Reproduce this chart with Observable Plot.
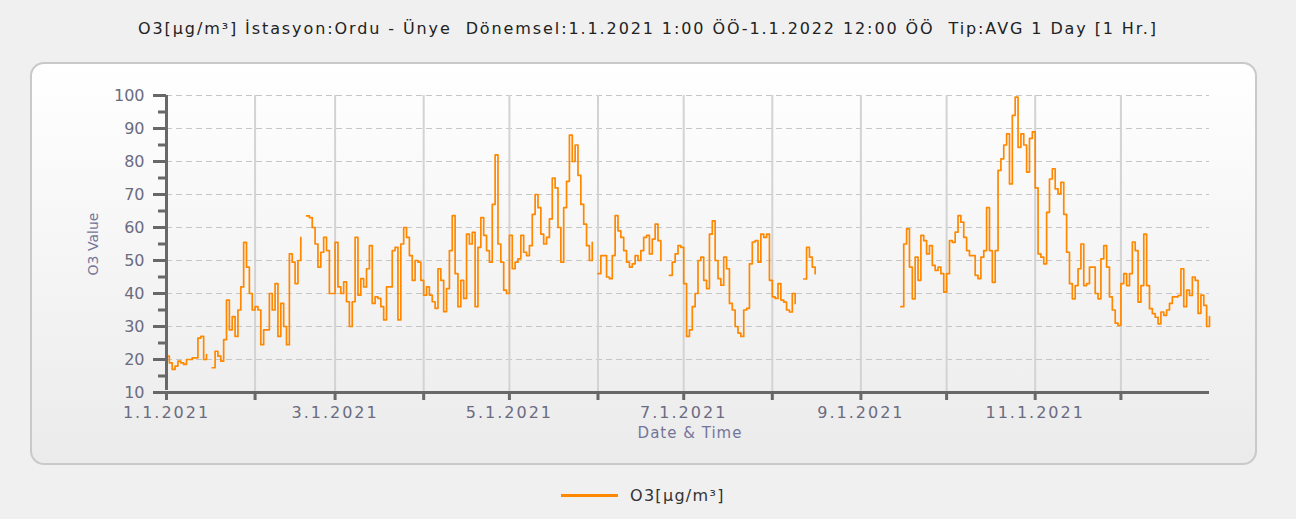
<!DOCTYPE html>
<html>
<head>
<meta charset="utf-8">
<script src="https://cdn.jsdelivr.net/npm/d3@7"></script>
<script src="https://cdn.jsdelivr.net/npm/@observablehq/plot@0.6"></script>
<style>
  body { margin: 0; background: #f0f0f0; font-family: "DejaVu Sans", sans-serif; }
  #root { position: relative; width: 1296px; height: 519px; overflow: hidden; background: #f0f0f0; }
  #title { position: absolute; left: 0; top: 19px; width: 1296px; text-align: center; font-size: 16px; letter-spacing: 1.9px; color: #222; white-space: pre; }
  #panel { position: absolute; left: 30px; top: 62px; width: 1223px; height: 399px; border: 2px solid #c9c9c9; border-radius: 14px; background: linear-gradient(#ffffff, #ebebeb); }
  #chart { position: absolute; left: 0; top: 62px; }
  #xlabel { position: absolute; left: 590px; width: 200px; top: 424px; text-align: center; font-size: 15px; letter-spacing: 1px; color: #75759a; }
  #ylabel { position: absolute; left: 43px; top: 236px; width: 100px; text-align: center; font-size: 14px; color: #75759a; transform: rotate(-90deg); }
  #legend { position: absolute; left: 561px; top: 486px; display: flex; align-items: center; font-size: 16px; letter-spacing: 1.3px; color: #333; }
  #legend .sw { width: 57px; height: 3px; background: #ff8800; margin-right: 12px; }
  #chart g[aria-label$="tick label"] { fill: #6b6b80; }
  #chart g[aria-label="x-axis tick label"] { letter-spacing: 2px; }
</style>
</head>
<body>
<div id="root">
  <div id="title">O3[µg/m³] İstasyon:Ordu - Ünye  Dönemsel:1.1.2021 1:00 ÖÖ-1.1.2022 12:00 ÖÖ  Tip:AVG 1 Day [1 Hr.]</div>
  <div id="panel"></div>
  <div id="chart"></div>
  <div id="xlabel">Date &amp; Time</div>
  <div id="ylabel">O3 Value</div>
  <div id="legend"><div class="sw"></div><span>O3[µg/m³]</span></div>
</div>
<script>
// Daily O3 averages (µg/m³), one array per month of 2021; null = missing day
const jan = [21,19,17,18,19.5,19,18.5,20,20,20.5,20.5,26.5,27,20,21.5,null,17.5,22.5,21,19.5,26,38,29,33,27,35,42,55.5,48,40,35];
const feb = [36,35,24.5,29,29,40,35,43,27,37,30,24.5,52,49.5,43,50,57,null,63.5,63,60,55,48,52.5,57,53,40,40];
const mar = [55.5,42,40,43.5,37.5,30,37.5,57,39.5,44.5,42,47.5,54.5,37,39,38.5,36,32,42,42,53,54,32,55,60,57,51.5,44,50,49.5,44];
const apr = [39.5,42,39.5,37.5,35.5,47.5,44,34.5,41.5,53,63.6,46,36,44,38.5,58,55,58.5,36,54,63,57.6,53,49.5,67,82,55,49.5,41,40];
const may = [57.6,47.5,49.5,50.5,57.6,52.5,51.5,54.5,64,70,66,58,55,57,62.6,75,72,60,49.5,66,74,88,80,85,75.8,67,61,54.5,50,55.5,null];
const jun = [46,51.5,51.5,45,44.5,51.5,63.6,59,57,53,49.5,48,49,51.5,50,53,57,57.6,52,56.5,61,56,50,null,null,45.5,49.5,52,54.5,54];
const jul = [43,27,29,36,40,50,51,44,41.5,58,62,50,44.5,42.5,51,47.5,37,35,30,28,27,35,35.5,49,55.6,56,49.5,58,57,58,44];
const aug = [39,38.5,43,38,37.4,35,34.4,40,37,null,null,44.4,54,51,48,46,null,null,null,null,null,null,null,null,null,null,null,null,null,null,null];
const sep = [null,null,null,null,null,null,null,null,null,null,null,null,null,null,36,55,59.6,48,38.4,51,44,57.6,56,52,54.5,48.5,47,48,46,40.4];
const oct = [46,56,55.5,58.6,63.6,61.6,57,53,51.5,51.5,45.5,44.5,51,53,66,53,43.4,53,77.3,80.8,85,88.4,73.2,94,99.5,84.3,88.4,85,76.8,87,89];
const nov = [72,52,51,49,64.6,74.7,77.8,71.7,70.2,73.7,64,52.5,43,38.4,42.4,47.5,55,42.4,43,48,48,40,38.4,50.5,54.5,48,39,35,31,30.3];
const dec = [43,46,42.4,46,55.6,53,37.4,42.4,58,42.4,35.4,33.9,32.8,30.8,34.4,33.4,35,37,39,39,39.4,47.5,36,41,39.4,45,44,34,39.5,36.4,30];
const jan2022 = [33];

const xTickLabels = ["1.1.2021","","3.1.2021","","5.1.2021","","7.1.2021","","9.1.2021","","11.1.2021",""];
const yTicks = [10,20,30,40,50,60,70,80,90,100];
const yMinorTicks = [15,25,35,45,55,65,75,85,95];

const months = [jan,feb,mar,apr,may,jun,jul,aug,sep,oct,nov,dec,jan2022];
const data = [];
let day = 0;
for (const arr of months) {
  for (const v of arr) {
    data.push({date: new Date(Date.UTC(2021, 0, 1 + day)), value: v});
    day++;
  }
}
const start = new Date(Date.UTC(2021, 0, 1));
const end = new Date(Date.UTC(2022, 0, 1));
const monthStarts = d3.utcMonths(start, end);

const axisColor = "#686868";

const chart = Plot.plot({
  width: 1296,
  height: 404,
  marginLeft: 166,
  marginRight: 87,
  marginTop: 33,
  marginBottom: 74,
  style: {background: "transparent", fontFamily: "DejaVu Sans, sans-serif", fontSize: "16px", overflow: "visible"},
  x: {type: "utc", domain: [start, end]},
  y: {domain: [10, 100]},
  marks: [
    Plot.gridY(yTicks.slice(1), {stroke: "#c6c6c6", strokeOpacity: 1, strokeDasharray: "6,4"}),
    Plot.gridX(monthStarts.slice(1), {stroke: "#d3d3d3", strokeOpacity: 1, strokeWidth: 2}),
    Plot.lineY(data, {x: "date", y: "value", stroke: "#ff8800", strokeWidth: 1.7, curve: "step-after"}),
    Plot.axisY({ticks: yTicks, tickSize: 13, tickPadding: 9, stroke: axisColor, strokeWidth: 3, label: null}),
    Plot.axisY({ticks: yMinorTicks, tickSize: 8, stroke: axisColor, strokeWidth: 3, tickFormat: () => "", label: null}),
    Plot.axisX({ticks: monthStarts, tickSize: 8, tickPadding: 6, stroke: axisColor, strokeWidth: 3,
      tickFormat: d => xTickLabels[d.getUTCMonth()], label: null}),
    Plot.ruleY([10], {stroke: axisColor, strokeWidth: 3}),
    Plot.ruleX([start], {y1: 10, y2: 100, stroke: axisColor, strokeWidth: 3, insetTop: -2})
  ]
});
document.getElementById("chart").appendChild(chart);
</script>
</body>
</html>
